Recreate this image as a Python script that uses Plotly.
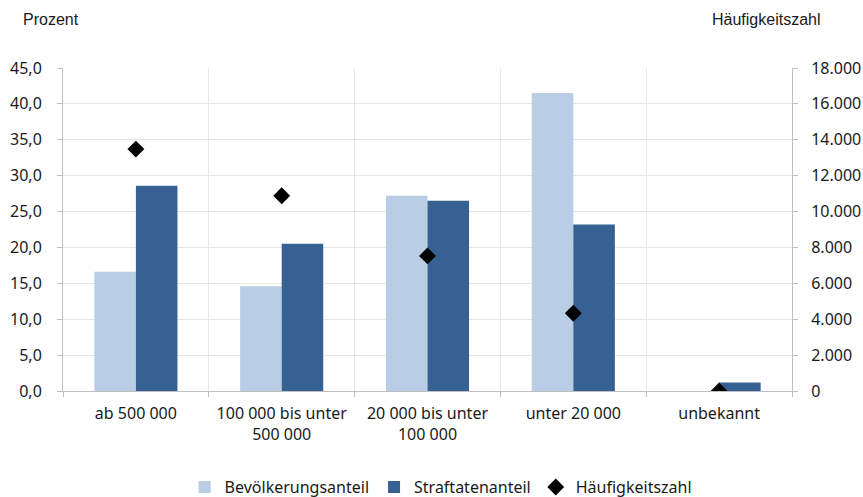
import plotly.graph_objects as go

# Gemeindegrößenklassen
kategorien = [
    "ab 500 000",
    "100 000 bis unter<br>500 000",
    "20 000 bis unter<br>100 000",
    "unter 20 000",
    "unbekannt",
]
# Anteile in Prozent
bevoelkerungsanteil = [16.6, 14.6, 27.2, 41.5, 0.0]
straftatenanteil = [28.6, 20.5, 26.5, 23.2, 1.2]
# Straftaten je 100 000 Einwohner
haeufigkeitszahl = [13480, 10880, 7530, 4330, 0]

hell = "#b9cde4"
dunkel = "#376192"
gitter = "#e6e6e6"
achse = "#bfbfbf"
schrift = "Noto Sans"

fig = go.Figure()
fig.add_trace(go.Bar(
    x=kategorien, y=bevoelkerungsanteil, name="Bevölkerungsanteil",
    marker=dict(color=hell, line=dict(width=0)),
))
fig.add_trace(go.Bar(
    x=kategorien, y=straftatenanteil, name="Straftatenanteil",
    marker=dict(color=dunkel, line=dict(width=0)),
))
fig.add_trace(go.Scatter(
    x=kategorien, y=haeufigkeitszahl, name="Häufigkeitszahl", yaxis="y2",
    mode="markers", marker=dict(symbol="diamond", size=13, color="black"),
))

fig.update_layout(
    width=863, height=497,
    margin=dict(l=63, r=71, t=68, b=106),
    paper_bgcolor="white", plot_bgcolor="white",
    separators=",.",
    barmode="group", bargap=0.43, bargroupgap=0,
    font=dict(family=schrift, size=16, color="#1a1a1a"),
    showlegend=True,
    legend=dict(
        orientation="h", x=0.518, xanchor="center",
        yref="container", y=0.02, yanchor="middle",
        font=dict(family=schrift, size=16), itemwidth=30, traceorder="normal",
    ),
    xaxis=dict(
        type="category", tickson="boundaries", showgrid=True, gridcolor=gitter,
        gridwidth=1, ticks="outside", ticklen=5, tickcolor=achse,
        showline=True, linecolor=achse, linewidth=1, mirror=False,
        tickfont=dict(size=16), ticklabelstandoff=8, automargin=False,
    ),
    yaxis=dict(
        range=[0, 45], dtick=5, tickformat=".1f", showgrid=True,
        gridcolor=gitter, ticks="outside", ticklen=5, tickcolor=achse,
        showline=True, linecolor=achse, zeroline=False, tickfont=dict(size=16),
        ticklabelstandoff=12, automargin=False,
    ),
    yaxis2=dict(
        range=[0, 18000], dtick=2000, tickformat=",d", overlaying="y",
        side="right", showgrid=False, ticks="outside", ticklen=5,
        tickcolor=achse, showline=True, linecolor=achse, zeroline=False,
        tickfont=dict(size=16), ticklabelstandoff=10, automargin=False,
    ),
    annotations=[
        dict(text="Prozent", xref="paper", yref="paper", x=-0.058, y=1.15,
             xanchor="left", yanchor="middle", showarrow=False,
             font=dict(family="Liberation Sans", size=16)),
        dict(text="Häufigkeitszahl", xref="paper", yref="paper", x=1.042, y=1.15,
             xanchor="right", yanchor="middle", showarrow=False,
             font=dict(family="Liberation Sans", size=16)),
    ],
)

fig.write_html("out.html")
